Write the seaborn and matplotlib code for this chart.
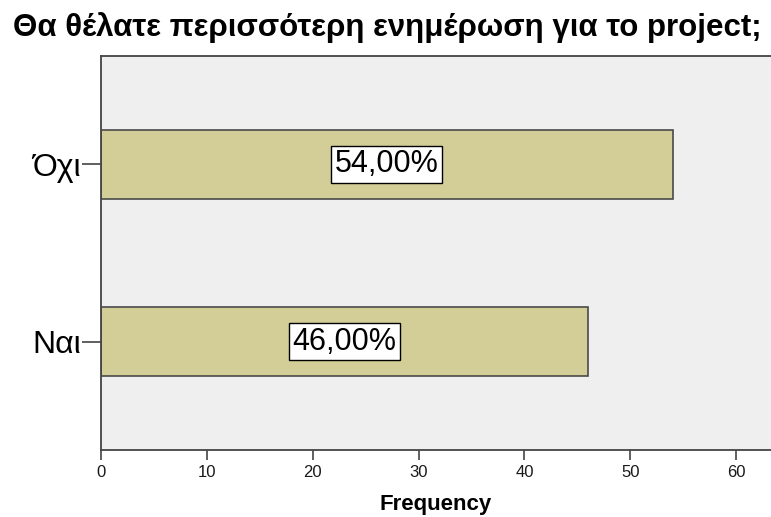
import matplotlib
matplotlib.use("Agg")
import matplotlib.pyplot as plt
import seaborn as sns
import pandas as pd

# Survey answers and their frequencies (n = 100)
answers = ["Όχι", "Ναι"]
frequency = [54, 46]
x_ticks = [0, 10, 20, 30, 40, 50, 60]

title = "Θα θέλατε περισσότερη ενημέρωση για το project;"
x_label = "Frequency"

df = pd.DataFrame({"answer": answers, "frequency": frequency})
total = sum(frequency)

sns.set_style("white")
plt.rcParams["font.family"] = ["Liberation Sans", "DejaVu Sans"]
plt.rcParams["text.color"] = "black"
plt.rcParams["axes.labelcolor"] = "black"
plt.rcParams["xtick.color"] = "black"
plt.rcParams["ytick.color"] = "black"

fig = plt.figure(figsize=(7.71, 5.17), dpi=100)
ax = fig.add_axes([101 / 771, 1 - 450 / 517, 1 - 101 / 771, (450 - 56) / 517])
ax.set_facecolor("#EFEFEF")

sns.barplot(data=df, x="frequency", y="answer", order=answers, orient="h",
            color="#D3CE97", saturation=1, width=0.39,
            edgecolor="#4A4A4A", linewidth=1.2, ax=ax)

# Percentage labels centred on each bar
for i, v in enumerate(frequency):
    pct = f"{100 * v / total:.2f}%".replace(".", ",")
    ax.text(v / 2, i, pct, ha="center", va="center", fontsize=22,
            color="black",
            bbox=dict(boxstyle="square,pad=0.12", facecolor="white",
                      edgecolor="black", linewidth=1.0))

ax.set_xlim(0, 63.3)
ax.set_ylim(1.61, -0.61)
ax.set_xticks(x_ticks)
ax.set_xticklabels([str(t) for t in x_ticks], fontsize=12, color="#1A1A1A")
ax.tick_params(axis="x", length=7, width=1.2, color="#444444", pad=4)
ax.tick_params(axis="y", length=14, width=1.2, color="#444444", pad=0.5,
               labelsize=23, labelcolor="black")
ax.tick_params(left=True, bottom=True)

ax.set_xlabel(x_label, fontsize=16, fontweight="bold", labelpad=10,
              color="black")
ax.set_ylabel("")

for side in ("left", "bottom", "top"):
    ax.spines[side].set_visible(True)
    ax.spines[side].set_color("#444444")
    ax.spines[side].set_linewidth(1.3)
ax.spines["right"].set_visible(False)

fig.text((8 + 766) / 2 / 771, 1 - 28 / 517, title, ha="center", va="center",
         fontsize=22.5, fontweight="bold", color="black")

fig.savefig("out.png", dpi=100)
